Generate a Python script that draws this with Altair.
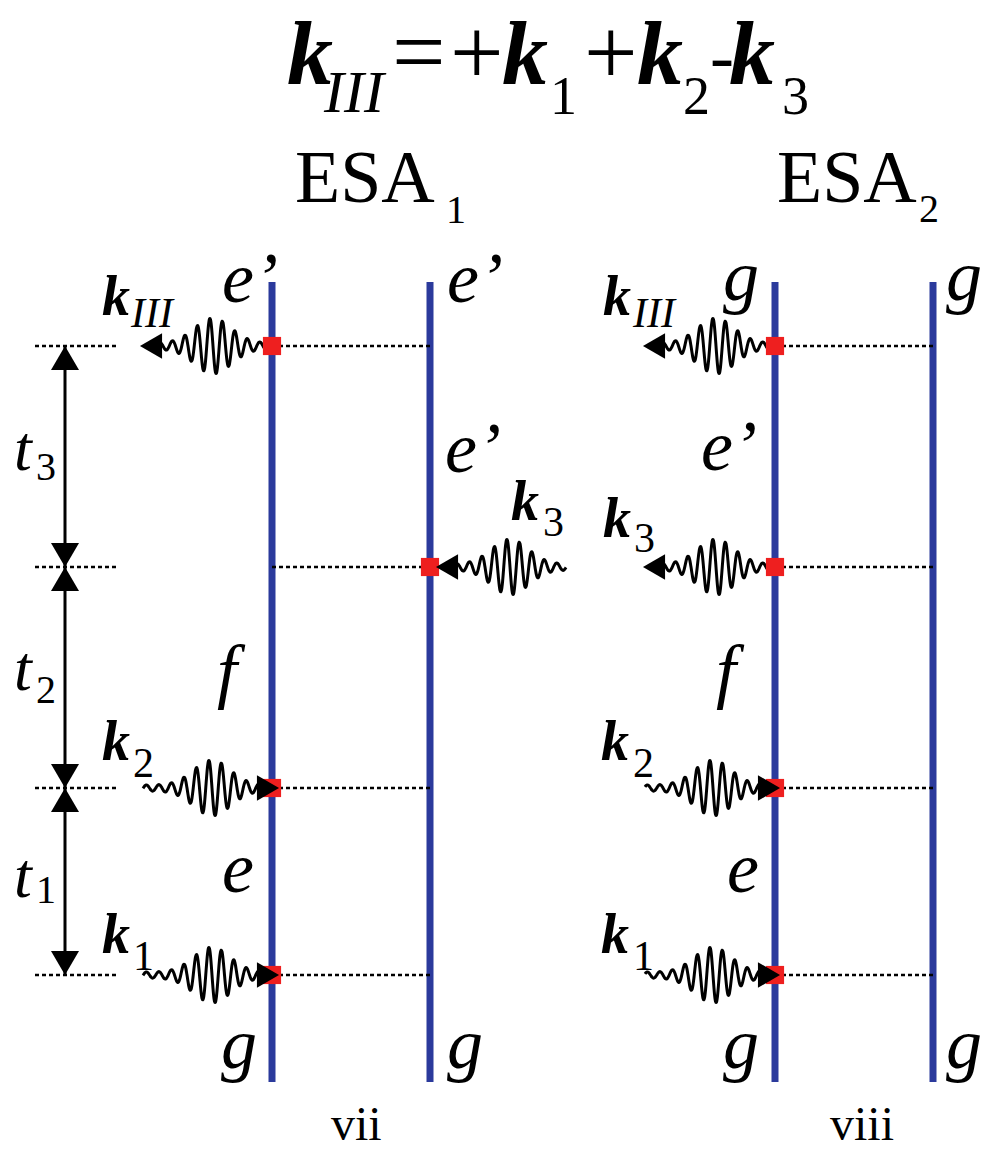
import altair as alt
import pandas as pd
import numpy as np

# ---------------- diagram data (figure units ~ pixels) ----------------
ket_bra_x = [272, 430, 775, 933]
line_top, line_bottom = 282, 1082

lev_kIII, lev_k3, lev_k2, lev_k1 = 346, 567, 788, 975

dotted_x1 = [272, 272, 272, 272, 775, 775, 775, 775, 35, 35, 35, 35]
dotted_x2 = [430, 430, 430, 430, 933, 933, 933, 933, 118, 118, 118, 118]
dotted_y = [lev_kIII, lev_k3, lev_k2, lev_k1] * 3

vert_x = [272, 430, 272, 272, 775, 775, 775, 775]
vert_y = [lev_kIII, lev_k3, lev_k2, lev_k1, lev_kIII, lev_k3, lev_k2, lev_k1]

time_x = 65
time_head_y = [358, 555, 579, 776, 800, 963]
time_head_shape = ["triangle-up", "triangle-down", "triangle-up",
                   "triangle-down", "triangle-up", "triangle-down"]

wave_x0 = [160, 455, 143, 143, 664, 664, 645, 645]
wave_x1 = [268, 566, 258, 258, 771, 771, 760, 760]
wave_lev = [lev_kIII, lev_k3, lev_k2, lev_k1, lev_kIII, lev_k3, lev_k2, lev_k1]
wave_peak = [213, 510, 212, 212, 716, 716, 713, 713]

whead_x = [151, 447, 268, 268, 654, 654, 769, 769]
whead_y = wave_lev
whead_shape = ["triangle-left", "triangle-left", "triangle-right", "triangle-right",
               "triangle-left", "triangle-left", "triangle-right", "triangle-right"]

# ---------------- texts ----------------
# bold italic wave vectors
bi_text = ["k"] * 12
bi_x = [287, 502, 637, 729, 102, 511, 102, 102, 603, 603, 601, 601]
bi_y = [84, 84, 84, 84, 315, 520, 760, 953, 315, 537, 760, 953]
bi_size = [92, 92, 92, 92, 56, 56, 56, 56, 56, 56, 56, 56]

# italic: subscripts III, state labels, time labels
it_text = ["III", "III", "III",
           "e\u2019", "e\u2019", "e\u2019", "f", "e", "g", "g",
           "g", "g", "e\u2019", "f", "e", "g", "g",
           "t", "t", "t"]
it_x = [324, 131, 633,
        222, 447, 445, 217, 222, 221, 447,
        723, 946, 701, 716, 727, 723, 946,
        14, 14, 14]
it_y = [112, 327, 327,
        302, 302, 472, 695, 892, 1068, 1068,
        300, 300, 470, 695, 892, 1068, 1068,
        470, 690, 897]
it_size = [60, 42, 42] + [72] * 14 + [64, 64, 64]

# regular upright
rg_text = ["=", "+", "1", "+", "2", "-", "3",
           "ESA", "1", "ESA", "2",
           "3", "2", "1", "3", "2", "1",
           "3", "2", "1",
           "vii", "viii"]
rg_x = [392, 450, 550, 584, 683, 710, 782,
        295, 446, 777, 919,
        543, 133, 133, 634, 633, 633,
        36, 36, 36,
        331, 830]
rg_y = [84, 84, 114, 84, 114, 80, 114,
        202, 223, 202, 222,
        536, 777, 970, 552, 777, 970,
        480, 703, 903,
        1140, 1140]
rg_size = [95, 95, 54, 95, 54, 72, 54,
           74, 40, 74, 40,
           42, 42, 42, 42, 42, 42,
           40, 40, 40,
           48, 48]

# ---------------- build tables ----------------
vlines = pd.DataFrame({"x": ket_bra_x, "y": [line_top] * 4, "y2": [line_bottom] * 4})
dots = pd.DataFrame({"x": dotted_x1, "x2": dotted_x2, "y": dotted_y})
verts = pd.DataFrame({"x": vert_x, "y": vert_y})
taxis = pd.DataFrame({"x": [time_x], "y": [lev_kIII], "y2": [lev_k1]})
theads = pd.DataFrame({"x": [time_x] * len(time_head_y), "y": time_head_y,
                       "shape": time_head_shape, "size": [784] * len(time_head_y)})
wheads = pd.DataFrame({"x": whead_x, "y": whead_y, "shape": whead_shape,
                       "size": [650] * len(whead_x)})

# wave-packet glyphs (decorative symbol of a light pulse)
rows = []
for wid in range(len(wave_x0)):
    xs = np.arange(wave_x0[wid], wave_x1[wid] + 0.01, 0.5)
    env = 3 + 25 * np.exp(-((xs - wave_peak[wid]) / 26.0) ** 2)
    ys = wave_lev[wid] + env * np.sin(2 * np.pi * (xs - wave_peak[wid]) / 12.5)
    for i, (a, b) in enumerate(zip(xs, ys)):
        rows.append({"wid": wid, "i": i, "x": float(a), "y": float(b)})
waves = pd.DataFrame(rows)

t_bi = pd.DataFrame({"x": bi_x, "y": bi_y, "text": bi_text, "size": bi_size})
t_it = pd.DataFrame({"x": it_x, "y": it_y, "text": it_text, "size": it_size})
t_rg = pd.DataFrame({"x": rg_x, "y": rg_y, "text": rg_text, "size": rg_size})

# ---------------- scales ----------------
xs_ = alt.Scale(domain=[8, 982], nice=False, zero=False)
ys_ = alt.Scale(domain=[8, 1142], nice=False, zero=False, reverse=True)
X = alt.X("x:Q", scale=xs_, axis=None)
Y = alt.Y("y:Q", scale=ys_, axis=None)

BLUE = "#2b3a9c"

l_vlines = alt.Chart(vlines).mark_rule(color=BLUE, strokeWidth=7).encode(
    x=X, y=Y, y2=alt.Y2("y2:Q"))
l_dots = alt.Chart(dots).mark_rule(color="black", strokeWidth=2.5, strokeDash=[4, 3]).encode(
    x=X, x2=alt.X2("x2:Q"), y=Y)
l_taxis = alt.Chart(taxis).mark_rule(color="black", strokeWidth=3).encode(
    x=X, y=Y, y2=alt.Y2("y2:Q"))
l_theads = alt.Chart(theads).mark_point(filled=True, color="black", opacity=1).encode(
    x=X, y=Y, shape=alt.Shape("shape:N", scale=None), size=alt.Size("size:Q", scale=None))
l_waves = alt.Chart(waves).mark_line(color="black", strokeWidth=3, interpolate="monotone").encode(
    x=X, y=Y, detail="wid:N", order="i:Q")
l_verts = alt.Chart(verts).mark_square(color="#ee1f1f", size=330, opacity=1).encode(x=X, y=Y)
l_wheads = alt.Chart(wheads).mark_point(filled=True, color="black", opacity=1).encode(
    x=X, y=Y, shape=alt.Shape("shape:N", scale=None), size=alt.Size("size:Q", scale=None))

def text_layer(df, font, style, weight):
    return alt.Chart(df).mark_text(
        font=font, fontStyle=style, fontWeight=weight, align="left",
        baseline="alphabetic", color="black").encode(
        x=X, y=Y, text="text:N", size=alt.Size("size:Q", scale=None))

SERIF = "Liberation Serif"
l_bi = text_layer(t_bi, SERIF, "italic", "bold")
l_it = text_layer(t_it, SERIF, "italic", "normal")
l_rg = text_layer(t_rg, SERIF, "normal", "normal")

chart = alt.layer(
    l_vlines, l_dots, l_taxis, l_theads, l_waves, l_verts, l_wheads, l_bi, l_it, l_rg
).properties(
    width=974, height=1134, padding=0, autosize=alt.AutoSizeParams(type="none"),
    background="white"
).configure_view(stroke=None)

chart.save("out.html", embed_options={"renderer": "svg", "actions": False})
